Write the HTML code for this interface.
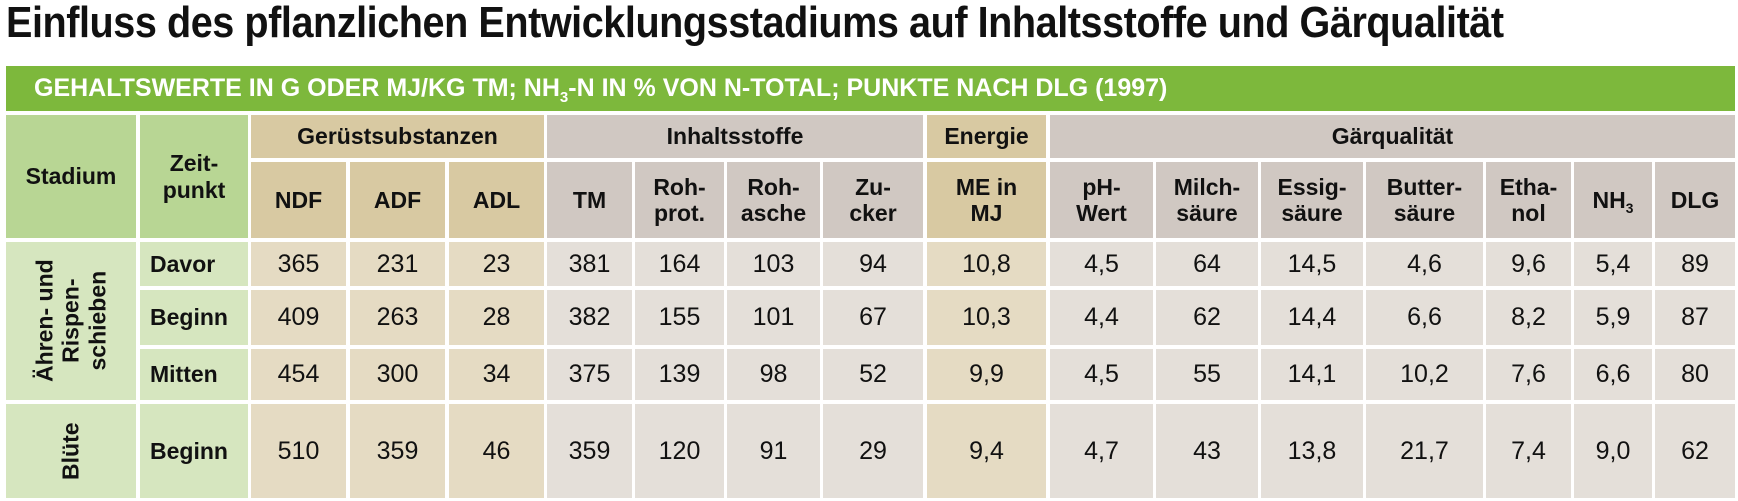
<!DOCTYPE html>
<html><head><meta charset="utf-8"><style>
body{margin:0;width:1738px;height:501px;background:#fff;position:relative;overflow:hidden;font-family:"Liberation Sans Narrow","Liberation Sans",sans-serif;}
.t{position:absolute;left:6px;top:-2px;font-size:44px;font-weight:bold;color:#111;white-space:nowrap;letter-spacing:-0.5px;transform:scaleX(0.9);transform-origin:0 0}
.bar{position:absolute;left:6px;top:66px;width:1729px;height:45px;background:#7db83c;color:#fff;font-weight:bold;font-size:25px;line-height:45px;box-sizing:border-box;padding-left:28px;white-space:nowrap}
.c{position:absolute;display:flex;align-items:center;justify-content:center;text-align:center;color:#111;box-sizing:border-box;line-height:1.15}
.h{font-weight:bold;font-size:23px}
.d{font-size:25px}
.g1{background:#b8d694}.g2{background:#d6e6bf}
.b1{background:#d8c9a2}.b2{background:#e5dbc3}
.r1{background:#d0c8c2}.r2{background:#e4dfd9}
.rot{transform:rotate(-90deg);white-space:nowrap}
.s{font-size:60%;position:relative;top:0.4em}
</style></head><body>
<div class="t">Einfluss des pflanzlichen Entwicklungsstadiums auf Inhaltsstoffe und Gärqualität</div>
<div class="bar">GEHALTSWERTE IN G ODER MJ/KG TM; NH<span class="s">3</span>-N IN % VON N-TOTAL; PUNKTE NACH DLG (1997)</div>

<div class="c h g1" style="left:6px;top:115px;width:130px;height:123px">Stadium</div>
<div class="c h g1" style="left:140px;top:115px;width:108px;height:123px">Zeit-<br>punkt</div>
<div class="c h b1" style="left:251px;top:115px;width:293px;height:43px">Gerüstsubstanzen</div>
<div class="c h r1" style="left:547px;top:115px;width:376px;height:43px">Inhaltsstoffe</div>
<div class="c h b1" style="left:927px;top:115px;width:119px;height:43px">Energie</div>
<div class="c h r1" style="left:1050px;top:115px;width:685px;height:43px">Gärqualität</div>

<div class="c h b1" style="left:251px;top:162px;width:95px;height:76px">NDF</div>
<div class="c h b1" style="left:350px;top:162px;width:95px;height:76px">ADF</div>
<div class="c h b1" style="left:449px;top:162px;width:95px;height:76px">ADL</div>
<div class="c h r1" style="left:547px;top:162px;width:85px;height:76px">TM</div>
<div class="c h r1" style="left:635px;top:162px;width:89px;height:76px">Roh-<br>prot.</div>
<div class="c h r1" style="left:727px;top:162px;width:93px;height:76px">Roh-<br>asche</div>
<div class="c h r1" style="left:823px;top:162px;width:100px;height:76px">Zu-<br>cker</div>
<div class="c h b1" style="left:927px;top:162px;width:119px;height:76px">ME in<br>MJ</div>
<div class="c h r1" style="left:1050px;top:162px;width:103px;height:76px">pH-<br>Wert</div>
<div class="c h r1" style="left:1156px;top:162px;width:102px;height:76px">Milch-<br>säure</div>
<div class="c h r1" style="left:1261px;top:162px;width:102px;height:76px">Essig-<br>säure</div>
<div class="c h r1" style="left:1366px;top:162px;width:117px;height:76px">Butter-<br>säure</div>
<div class="c h r1" style="left:1486px;top:162px;width:85px;height:76px">Etha-<br>nol</div>
<div class="c h r1" style="left:1574px;top:162px;width:78px;height:76px"><span>NH<span class="s">3</span></span></div>
<div class="c h r1" style="left:1655px;top:162px;width:80px;height:76px">DLG</div>

<div class="c h g2" style="left:6px;top:242px;width:130px;height:158px"><div class="rot">Ähren- und<br>Rispen-<br>schieben</div></div>
<div class="c h g2" style="left:6px;top:404px;width:130px;height:94px"><div class="rot">Blüte</div></div>

<div id="rows"></div>
<script>
var cols=[[140,108,'g2'],[251,95,'b2'],[350,95,'b2'],[449,95,'b2'],[547,85,'r2'],[635,89,'r2'],[727,93,'r2'],[823,100,'r2'],[927,119,'b2'],[1050,103,'r2'],[1156,102,'r2'],[1261,102,'r2'],[1366,117,'r2'],[1486,85,'r2'],[1574,78,'r2'],[1655,80,'r2']];
var rows=[[242,44],[290,55],[349,51],[404,94]];
var data=[
['Davor','365','231','23','381','164','103','94','10,8','4,5','64','14,5','4,6','9,6','5,4','89'],
['Beginn','409','263','28','382','155','101','67','10,3','4,4','62','14,4','6,6','8,2','5,9','87'],
['Mitten','454','300','34','375','139','98','52','9,9','4,5','55','14,1','10,2','7,6','6,6','80'],
['Beginn','510','359','46','359','120','91','29','9,4','4,7','43','13,8','21,7','7,4','9,0','62']];
var h='';
for(var r=0;r<4;r++)for(var c=0;c<16;c++){
h+='<div class="c '+(c==0?'h':'d')+' '+cols[c][2]+'" style="left:'+cols[c][0]+'px;top:'+rows[r][0]+'px;width:'+cols[c][1]+'px;height:'+rows[r][1]+'px;'+(c==0?'justify-content:flex-start;padding-left:10px;':'')+'">'+data[r][c]+'</div>';}
document.getElementById('rows').innerHTML=h;
</script>
</body></html>
